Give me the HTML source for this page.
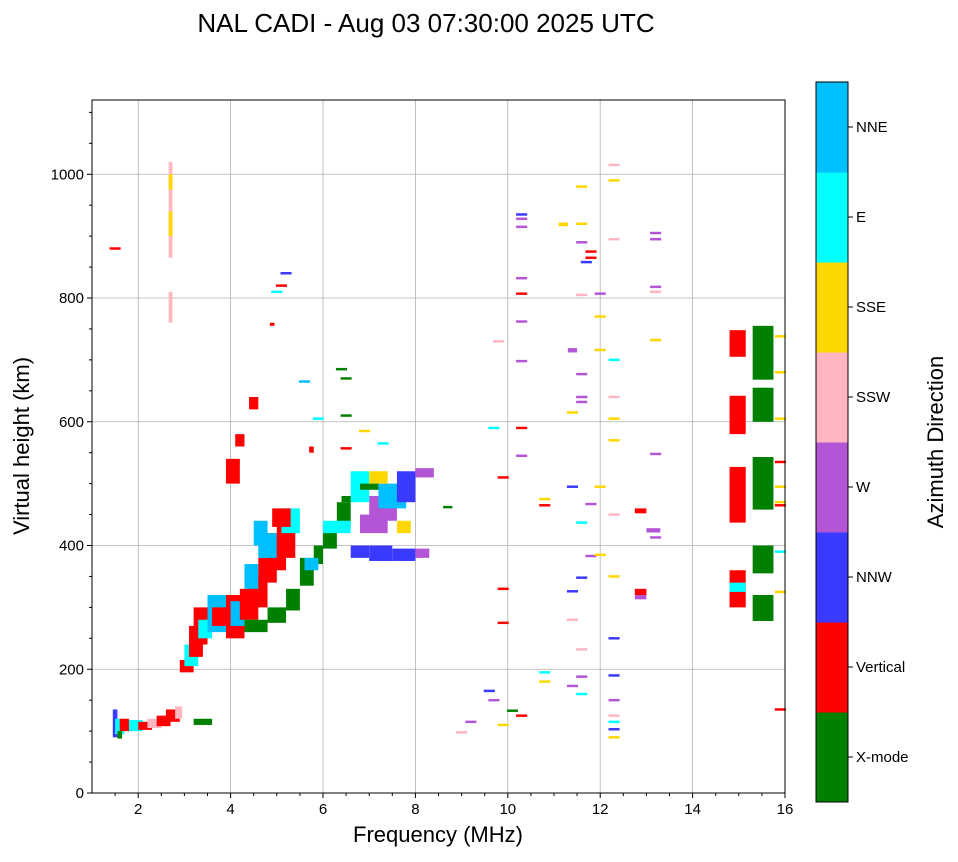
<!DOCTYPE html>
<html><head><meta charset="utf-8">
<style>
html,body{margin:0;padding:0;background:#fff;}
body{width:958px;height:857px;overflow:hidden;font-family:"Liberation Sans","DejaVu Sans",sans-serif;}
</style></head>
<body>
<svg id="chart" width="958" height="857" xmlns="http://www.w3.org/2000/svg" font-family="Liberation Sans, DejaVu Sans, sans-serif">
<text x="426" y="32" text-anchor="middle" font-size="26">NAL CADI - Aug 03 07:30:00 2025 UTC</text>
<g id="grid"></g>
<g id="marks"></g>
<rect x="92" y="100" width="693" height="693" fill="none" stroke="#000" stroke-width="1"/>
<g id="axes"></g>
<text x="438" y="842" text-anchor="middle" font-size="22">Frequency (MHz)</text>
<text transform="translate(29,446) rotate(-90)" text-anchor="middle" font-size="22">Virtual height (km)</text>
<g id="cbar"></g>
<text transform="translate(943,442) rotate(-90)" text-anchor="middle" font-size="22">Azimuth Direction</text>
</svg>
<script>
const dirNames = ["X-mode","Vertical","NNW","W","SSW","SSE","E","NNE"];
const dirColors = ["#008000","#ff0000","#3a3aff","#b455d6","#ffb6c1","#ffd700","#00ffff","#00bfff"];
const xTicks = [2,4,6,8,10,12,14,16];
const yTicks = [0,200,400,600,800,1000];
// blocks: freq start, freq end, height start, height end, direction index
const f0 = [1.45,1.5,1.6,1.8,2.0,2.2,2.4,2.6,2.8,3.2,1.55,
 2.9,3.0,3.1,3.2,3.3,3.5,3.6,3.9,4.0,4.2,4.4,4.3,4.6,4.8,4.6,5.0,5.1,4.9,4.5,
 4.3,4.8,5.2,5.5,5.8,6.0,6.3,6.4,5.6,6.0,
 3.9,4.1,4.4,4.85,5.7,
 6.6,7.0,7.5,8.0,6.8,7.0,7.2,6.6,7.0,7.6,8.0,6.8,7.6,8.6,
 2.66,2.66,2.66,2.66,
 14.8,14.8,14.8,14.8,14.8,15.3,15.3,15.3,15.3,15.3,
 12.75,12.75,12.75,13.0,11.3,11.1];
const f1 = [1.55,1.7,1.8,2.1,2.3,2.5,2.7,2.9,2.95,3.6,1.65,
 3.2,3.3,3.4,3.5,3.6,3.9,4.0,4.3,4.4,4.6,4.8,4.6,5.0,5.2,5.0,5.4,5.5,5.3,4.8,
 4.8,5.2,5.5,5.8,6.0,6.3,6.6,6.7,5.9,6.6,
 4.2,4.3,4.6,4.95,5.8,
 7.0,7.5,8.0,8.3,7.4,7.6,7.8,7.0,7.4,8.0,8.4,7.2,7.9,8.8,
 2.74,2.74,2.74,2.74,
 15.15,15.15,15.15,15.15,15.15,15.75,15.75,15.75,15.75,15.75,
 13.0,13.0,13.0,13.3,11.5,11.3];
const h0 = [90,95,100,100,102,105,108,115,120,110,88,
 195,205,220,240,250,260,270,250,270,280,300,330,340,360,380,380,420,430,400,
 260,275,295,335,370,395,430,470,360,420,
 500,560,620,755,550,
 380,375,375,380,420,440,460,470,500,470,510,490,420,460,
 865,900,760,975,
 705,580,437,300,325,668,600,458,355,278,
 452,320,313,421,712,916];
const h1 = [135,120,120,118,115,120,125,135,140,120,100,
 215,240,270,300,280,320,300,320,310,330,350,370,380,420,420,440,460,460,440,
 280,300,330,380,400,430,470,480,380,440,
 540,580,640,760,560,
 400,400,395,395,450,480,500,520,520,520,525,500,440,464,
 1020,940,810,1000,
 748,642,527,360,340,755,655,543,400,320,
 460,330,320,428,719,922];
const d = [2,6,1,6,1,4,1,1,4,0,0,
 1,6,1,1,6,7,1,1,7,1,1,7,1,1,7,1,6,1,7,
 0,0,0,0,0,0,0,0,7,6,
 1,1,1,1,1,
 2,2,2,3,3,3,7,6,5,2,3,0,5,0,
 4,5,4,5,
 1,1,1,1,6,0,0,0,0,0,
 1,1,3,3,3,5];
// single thin ticks: frequency, height, direction
const tf = [12.3,12.3,12.3,12.3,12.3,12.3,12.3,12.3,12.3,12.3,12.3,12.3,12.3,12.3,12.3,12.3,
 13.2,13.2,13.2,13.2,13.2,13.2,13.2,
 10.3,10.3,10.3,10.3,10.3,10.3,10.3,10.3,10.3,
 9.9,9.9,9.9,9.7,9.8,
 11.6,11.6,11.6,11.8,11.8,11.7,11.6,12.0,11.6,11.6,11.6,11.4,11.4,11.8,11.6,11.8,11.6,11.4,11.4,11.6,11.6,11.4,11.6,
 10.8,10.8,10.8,10.8,
 9.2,9.6,9.7,9.9,10.1,10.3,9.0,
 12.0,12.0,12.0,12.0,
 15.9,15.9,15.9,15.9,15.9,15.9,15.9,15.9,15.9,15.9,
 5.2,5.1,5.0,6.4,6.5,6.5,5.9,5.6,6.5,6.9,7.3,1.5];
const th = [990,1015,895,700,640,605,570,450,350,250,190,150,125,115,103,90,
 905,895,818,810,732,548,413,
 935,928,915,832,807,762,698,590,545,
 510,330,275,590,730,
 980,920,890,875,865,858,805,770,677,640,632,615,495,467,437,383,348,326,280,232,188,173,160,
 475,465,195,180,
 115,165,150,110,133,125,98,
 807,716,495,385,
 738,680,605,495,470,325,535,465,135,390,
 840,820,810,685,670,610,605,665,557,585,565,880];
const td = [5,4,4,6,4,5,5,4,5,2,2,3,4,6,2,5,
 3,3,3,4,5,3,3,
 2,3,3,3,1,3,3,1,3,
 1,1,1,6,4,
 5,5,3,1,1,2,4,5,3,3,3,5,2,3,6,3,2,2,4,4,3,3,6,
 5,1,6,5,
 3,2,3,5,0,1,4,
 3,5,5,5,
 5,5,5,5,5,5,1,1,1,6,
 2,1,6,0,0,0,6,7,1,5,6,1];

const NS="http://www.w3.org/2000/svg";
const X0=92,X1=785,Y0=793,Y1=100,FMIN=1,FMAX=16,HMIN=0,HMAX=1120;
const xs=f=>X0+(f-FMIN)/(FMAX-FMIN)*(X1-X0);
const ys=h=>Y0-(h-HMIN)/(HMAX-HMIN)*(Y0-Y1);
function mk(tag,attrs,parent){const e=document.createElementNS(NS,tag);for(const k in attrs)e.setAttribute(k,attrs[k]);parent.appendChild(e);return e;}
const grid=document.getElementById('grid'),marks=document.getElementById('marks'),axes=document.getElementById('axes'),cbar=document.getElementById('cbar');
xTicks.forEach(t=>{
  if(t<FMAX){const g=mk('line',{x1:xs(t),x2:xs(t),y1:Y1,y2:Y0,stroke:'#b0b0b0','stroke-width':0.8},grid);
  
  }
  const tk=mk('line',{x1:xs(t),x2:xs(t),y1:Y0,y2:Y0+5,stroke:'#000'},axes);
  
  
  const lb=mk('text',{x:xs(t),y:Y0+21,'text-anchor':'middle','font-size':15},axes);lb.textContent=t;
  
  
});
for(let m=1.5;m<FMAX;m+=0.5){if(m%2!==0){mk('line',{x1:xs(m),x2:xs(m),y1:Y0,y2:Y0+3,stroke:'#000'},axes);}}
for(let m=50;m<HMAX;m+=50){if(m%200!==0){mk('line',{x1:X0-3,x2:X0,y1:ys(m),y2:ys(m),stroke:'#000'},axes);}}
yTicks.forEach(t=>{
  if(t>0){const g=mk('line',{x1:X0,x2:X1,y1:ys(t),y2:ys(t),stroke:'#b0b0b0','stroke-width':0.8},grid);
  
  }
  mk('line',{x1:X0-5,x2:X0,y1:ys(t),y2:ys(t),stroke:'#000'},axes);
  const lb=mk('text',{x:X0-8,y:ys(t)+5,'text-anchor':'end','font-size':15},axes);lb.textContent=t;
  
  
});
for(let i=0;i<f0.length;i++){
  const r=mk('rect',{x:xs(f0[i]),y:ys(h1[i]),width:xs(f1[i])-xs(f0[i]),height:ys(h0[i])-ys(h1[i]),fill:dirColors[d[i]]},marks);
  
  
}
for(let i=0;i<tf.length;i++){
  const r=mk('rect',{x:xs(tf[i]-0.12),y:ys(th[i]+2),width:xs(tf[i]+0.12)-xs(tf[i]-0.12),height:ys(th[i]-2)-ys(th[i]+2),fill:dirColors[td[i]]},marks);
  
  
}
const CX=816,CW=32,CT=82,CB=802,bh=(CB-CT)/dirNames.length;
dirNames.forEach((n,i)=>{
  const y=CB-(i+1)*bh;
  const r=mk('rect',{x:CX,y:y,width:CW,height:bh+0.5,fill:dirColors[i]},cbar);
  
  
  mk('line',{x1:CX+CW,x2:CX+CW+5,y1:y+bh/2,y2:y+bh/2,stroke:'#000'},cbar);
  const t=mk('text',{x:CX+CW+8,y:y+bh/2+5,'font-size':15},cbar);t.textContent=n;
  
  
});
mk('rect',{x:CX,y:CT,width:CW,height:CB-CT,fill:'none',stroke:'#000','stroke-width':1},cbar);
</script>
</body></html>
